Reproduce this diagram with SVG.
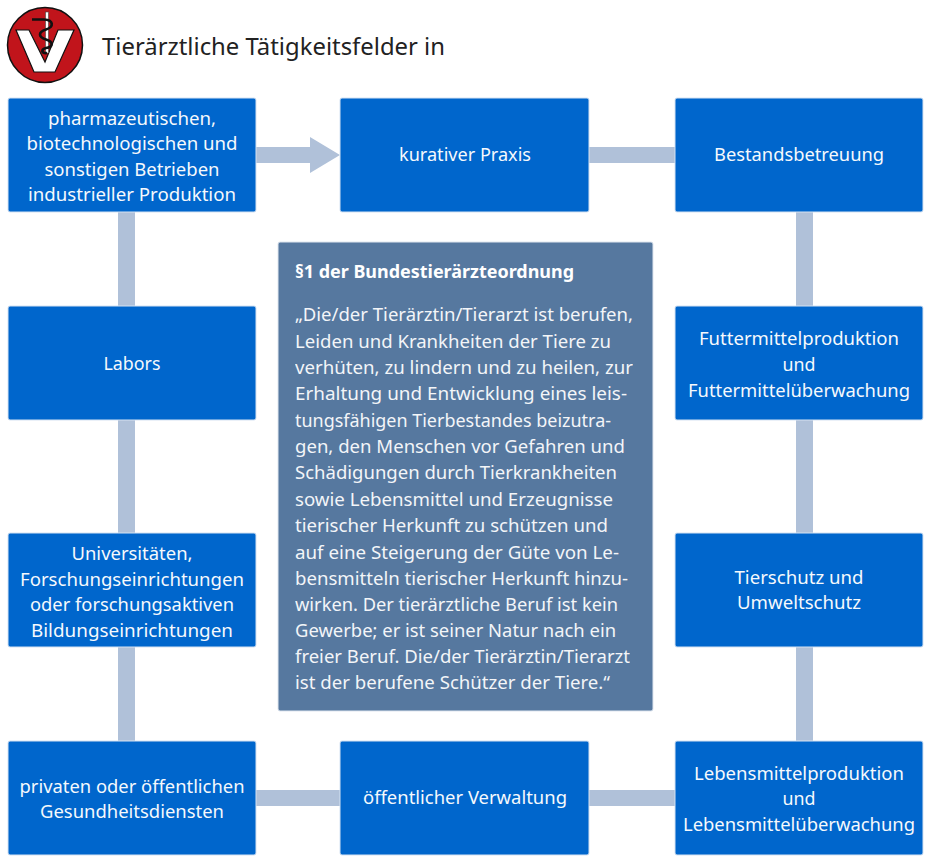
<svg xmlns="http://www.w3.org/2000/svg" width="930" height="863" viewBox="0 0 930 863">
<style>
text{font-family:"Noto Sans","Open Sans","Liberation Sans",sans-serif}
.n{fill:#0066cc;stroke:#d5e2f2;stroke-width:1}
.t{fill:#fff;font-size:18.2px;text-anchor:middle;opacity:.96}
.p{fill:#fff;font-size:17.6px;opacity:.93}
.c{fill:#b0c1d9}
</style>
<rect width="930" height="863" fill="#fff"/>
<g id="connectors">
<path class="c" d="M256 147H310V137L340 155L310 173V163H256Z"/>
<rect class="c" x="589" y="147" width="86" height="16"/>
<rect class="c" x="256" y="790" width="84" height="16"/>
<rect class="c" x="589" y="790" width="86" height="16"/>
<rect class="c" x="118" y="212" width="17" height="94"/>
<rect class="c" x="118" y="420" width="17" height="113"/>
<rect class="c" x="118" y="647" width="17" height="94"/>
<rect class="c" x="796" y="212" width="17" height="94"/>
<rect class="c" x="796" y="420" width="17" height="113"/>
<rect class="c" x="796" y="647" width="17" height="94"/>
</g>
<g id="logo">
<circle cx="45" cy="45" r="37.5" fill="#c1141b" stroke="#111" stroke-width="1.5"/>
<path d="M16 30H29L45 62L58 30H74L55 72H34Z" fill="#fff" stroke="#111" stroke-width="1.2"/>
<rect x="45.5" y="12" width="3" height="41" fill="#fff" stroke="#444" stroke-width=".6"/>
<path d="M32 19.500H44C54 20 54 27 46 29.500C38 32 38 37 46 39.500C54 42 53 47 46 48C41 49 41 54 47 53" fill="none" stroke="#111" stroke-width="2.600"/>
</g>
<text id="title" x="102" y="55" font-size="24px" fill="#222" textLength="343" lengthAdjust="spacingAndGlyphs">Tierärztliche Tätigkeitsfelder in</text>
<g id="n1"><rect class="n" x="8" y="98" width="248" height="114" rx="2"/>
<text class="t" x="132" y="125" textLength="168" lengthAdjust="spacingAndGlyphs">pharmazeutischen,</text>
<text class="t" x="132" y="150" textLength="211" lengthAdjust="spacingAndGlyphs">biotechnologischen und</text>
<text class="t" x="132" y="176" textLength="175" lengthAdjust="spacingAndGlyphs">sonstigen Betrieben</text>
<text class="t" x="132" y="201" textLength="208" lengthAdjust="spacingAndGlyphs">industrieller Produktion</text></g>
<g id="n2"><rect class="n" x="340" y="98" width="249" height="114" rx="2"/>
<text class="t" x="465" y="161" textLength="132" lengthAdjust="spacingAndGlyphs">kurativer Praxis</text></g>
<g id="n3"><rect class="n" x="675" y="98" width="248" height="114" rx="2"/>
<text class="t" x="799" y="161" textLength="170" lengthAdjust="spacingAndGlyphs">Bestandsbetreuung</text></g>
<g id="n4"><rect class="n" x="8" y="306" width="248" height="114" rx="2"/>
<text class="t" x="132" y="370" textLength="57" lengthAdjust="spacingAndGlyphs">Labors</text></g>
<g id="n5"><rect class="n" x="675" y="306" width="248" height="114" rx="2"/>
<text class="t" x="799" y="345" textLength="200" lengthAdjust="spacingAndGlyphs">Futtermittelproduktion</text>
<text class="t" x="799" y="371" textLength="33" lengthAdjust="spacingAndGlyphs">und</text>
<text class="t" x="799" y="397" textLength="222" lengthAdjust="spacingAndGlyphs">Futtermittelüberwachung</text></g>
<g id="n6"><rect class="n" x="8" y="533" width="248" height="114" rx="2"/>
<text class="t" x="132" y="560" textLength="121" lengthAdjust="spacingAndGlyphs">Universitäten,</text>
<text class="t" x="132" y="586" textLength="224" lengthAdjust="spacingAndGlyphs">Forschungseinrichtungen</text>
<text class="t" x="132" y="611" textLength="204" lengthAdjust="spacingAndGlyphs">oder forschungsaktiven</text>
<text class="t" x="132" y="637" textLength="202" lengthAdjust="spacingAndGlyphs">Bildungseinrichtungen</text></g>
<g id="n7"><rect class="n" x="675" y="533" width="248" height="114" rx="2"/>
<text class="t" x="799" y="584" textLength="129" lengthAdjust="spacingAndGlyphs">Tierschutz und</text>
<text class="t" x="799" y="609" textLength="124" lengthAdjust="spacingAndGlyphs">Umweltschutz</text></g>
<g id="n8"><rect class="n" x="8" y="741" width="248" height="114" rx="2"/>
<text class="t" x="132" y="793" textLength="225" lengthAdjust="spacingAndGlyphs">privaten oder öffentlichen</text>
<text class="t" x="132" y="818" textLength="184" lengthAdjust="spacingAndGlyphs">Gesundheitsdiensten</text></g>
<g id="n9"><rect class="n" x="340" y="741" width="249" height="114" rx="2"/>
<text class="t" x="465" y="804" textLength="204" lengthAdjust="spacingAndGlyphs">öffentlicher Verwaltung</text></g>
<g id="n10"><rect class="n" x="675" y="741" width="248" height="114" rx="2"/>
<text class="t" x="799" y="780" textLength="210" lengthAdjust="spacingAndGlyphs">Lebensmittelproduktion</text>
<text class="t" x="799" y="805" textLength="33" lengthAdjust="spacingAndGlyphs">und</text>
<text class="t" x="799" y="831" textLength="232" lengthAdjust="spacingAndGlyphs">Lebensmittelüberwachung</text></g>
<g id="panel"><rect x="278" y="242" width="375" height="469" rx="2" fill="#56789f" stroke="#dfe6ef" stroke-width="1"/>
<text x="295" y="278" fill="#fff" font-size="17.6px" font-weight="700" textLength="279" lengthAdjust="spacingAndGlyphs">§1 der Bundestierärzteordnung</text>
<text class="p" x="295" y="321" textLength="338" lengthAdjust="spacingAndGlyphs">„Die/der Tierärztin/Tierarzt ist berufen,</text>
<text class="p" x="295" y="348" textLength="316" lengthAdjust="spacingAndGlyphs">Leiden und Krankheiten der Tiere zu</text>
<text class="p" x="295" y="374" textLength="338" lengthAdjust="spacingAndGlyphs">verhüten, zu lindern und zu heilen, zur</text>
<text class="p" x="295" y="400" textLength="332" lengthAdjust="spacingAndGlyphs">Erhaltung und Entwicklung eines leis-</text>
<text class="p" x="295" y="427" textLength="316" lengthAdjust="spacingAndGlyphs">tungsfähigen Tierbestandes beizutra-</text>
<text class="p" x="295" y="453" textLength="330" lengthAdjust="spacingAndGlyphs">gen, den Menschen vor Gefahren und</text>
<text class="p" x="295" y="479" textLength="322" lengthAdjust="spacingAndGlyphs">Schädigungen durch Tierkrankheiten</text>
<text class="p" x="295" y="506" textLength="318" lengthAdjust="spacingAndGlyphs">sowie Lebensmittel und Erzeugnisse</text>
<text class="p" x="295" y="532" textLength="313" lengthAdjust="spacingAndGlyphs">tierischer Herkunft zu schützen und</text>
<text class="p" x="295" y="559" textLength="324" lengthAdjust="spacingAndGlyphs">auf eine Steigerung der Güte von Le-</text>
<text class="p" x="295" y="585" textLength="333" lengthAdjust="spacingAndGlyphs">bensmitteln tierischer Herkunft hinzu-</text>
<text class="p" x="295" y="611" textLength="323" lengthAdjust="spacingAndGlyphs">wirken. Der tierärztliche Beruf ist kein</text>
<text class="p" x="295" y="637" textLength="321" lengthAdjust="spacingAndGlyphs">Gewerbe; er ist seiner Natur nach ein</text>
<text class="p" x="295" y="663" textLength="335" lengthAdjust="spacingAndGlyphs">freier Beruf. Die/der Tierärztin/Tierarzt</text>
<text class="p" x="295" y="689" textLength="315" lengthAdjust="spacingAndGlyphs">ist der berufene Schützer der Tiere.“</text>
</g>
</svg>
